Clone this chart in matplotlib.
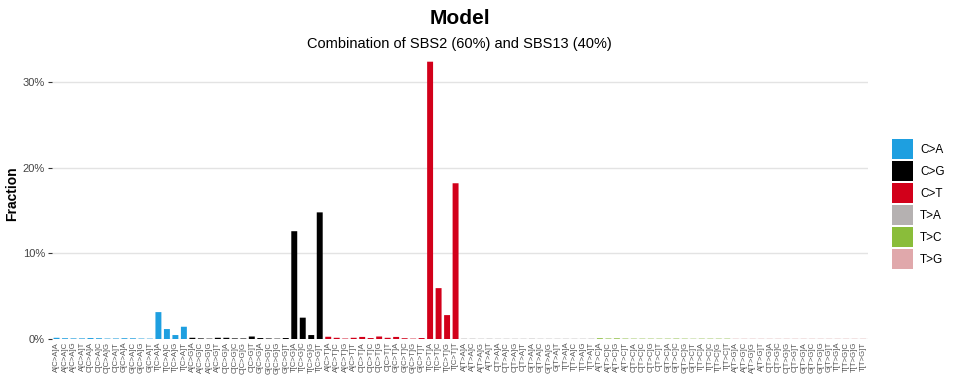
import numpy as np
import matplotlib
matplotlib.use("Agg")
import matplotlib.pyplot as plt
from matplotlib.patches import Patch

plt.rcParams["font.family"] = ["Liberation Sans", "DejaVu Sans"]

# ── data ────────────────────────────────────────────────
mut_types = ["C>A", "C>G", "C>T", "T>A", "T>C", "T>G"]
type_colors = ["#1E9FE0", "#000000", "#D2001A", "#B5B1B1", "#8ABD3A", "#E0A8AB"]
bases = ["A", "C", "G", "T"]

# fraction (%) per mutation type, order: A.A A.C A.G A.T C.A ... T.T
ca_vals = [0.15, 0.10, 0.08, 0.08, 0.12, 0.10, 0.06, 0.07,
           0.10, 0.09, 0.06, 0.05, 3.15, 1.17, 0.47, 1.44]
cg_vals = [0.15, 0.08, 0.05, 0.15, 0.15, 0.08, 0.07, 0.30,
           0.12, 0.07, 0.05, 0.12, 12.6, 2.50, 0.47, 14.8]
ct_vals = [0.27, 0.15, 0.06, 0.15, 0.25, 0.12, 0.30, 0.15,
           0.25, 0.10, 0.05, 0.12, 32.4, 5.95, 2.80, 18.2]
ta_vals = [0.05, 0.05, 0.04, 0.05, 0.04, 0.04, 0.04, 0.04,
           0.05, 0.04, 0.04, 0.04, 0.04, 0.04, 0.04, 0.05]
tc_vals = [0.10, 0.07, 0.09, 0.06, 0.05, 0.05, 0.05, 0.05,
           0.05, 0.06, 0.05, 0.04, 0.05, 0.05, 0.05, 0.05]
tg_vals = [0.04, 0.04, 0.04, 0.04, 0.04, 0.04, 0.04, 0.04,
           0.04, 0.04, 0.04, 0.04, 0.04, 0.04, 0.04, 0.04]
all_vals = [ca_vals, cg_vals, ct_vals, ta_vals, tc_vals, tg_vals]

labels, values, colors = [], [], []
for mt, col, vals in zip(mut_types, type_colors, all_vals):
    i = 0
    for b5 in bases:
        for b3 in bases:
            labels.append(f"{b5}[{mt}]{b3}")
            values.append(vals[i] / 100)
            colors.append(col)
            i += 1

# ── plot ────────────────────────────────────────────────
fig = plt.figure(figsize=(9.6, 3.84), dpi=100)
ax = fig.add_axes([0.0542, 0.117, 0.850, 0.758])

x = np.arange(len(values))
ax.bar(x, values, width=0.7, color=colors, zorder=3, snap=False)

ax.set_xlim(-0.53, 95.58)
ax.set_ylim(0, 0.34)
ax.set_yticks([0, 0.1, 0.2, 0.3])
ax.set_yticklabels(["0%", "10%", "20%", "30%"], fontsize=8, color="#444444")
ax.set_xticks(x)
ax.set_xticklabels(labels, rotation=90, fontsize=5.6, color="#555555")
ax.tick_params(axis="x", length=0, pad=2)
ax.tick_params(axis="y", length=3, width=0.8, color="#333333", pad=2)
ax.yaxis.grid(True, color="#E3E3E3", linewidth=1.0, zorder=0)
ax.set_axisbelow(True)
for s in ax.spines.values():
    s.set_visible(False)

ax.set_ylabel("Fraction", fontsize=10, fontweight="bold")
ax.yaxis.set_label_coords(-0.040, 0.5)

fig.text(0.479, 0.953, "Model", ha="center", va="center",
         fontsize=15, fontweight="bold")
fig.text(0.479, 0.885, "Combination of SBS2 (60%) and SBS13 (40%)",
         ha="center", va="center", fontsize=10.5)

handles = [Patch(facecolor=c, edgecolor="none", label=m)
           for m, c in zip(mut_types, type_colors)]
ax.legend(handles=handles, loc="center left", bbox_to_anchor=(1.029, 0.464),
          frameon=False, fontsize=8.5, handlelength=1.8, handleheight=2.25,
          labelspacing=0.15, handletextpad=0.6, borderaxespad=0,
          borderpad=0)

fig.savefig("out.png", dpi=100)
